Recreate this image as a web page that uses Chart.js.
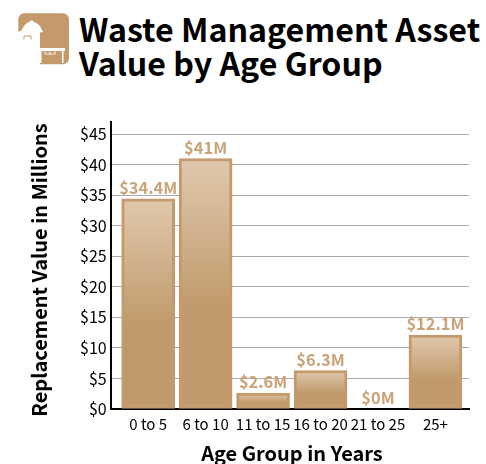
<!DOCTYPE html>
<html>
<head>
<meta charset="utf-8">
<title>Waste Management Asset Value by Age Group</title>
<script src="https://cdn.jsdelivr.net/npm/chart.js@4"></script>
<style>
    html, body { margin: 0; padding: 0; background: #fff; }
    body { width: 486px; height: 464px; position: relative; overflow: hidden; font-family: "Noto Sans CJK SC", "Noto Sans", sans-serif; }
    #chartBox { position: absolute; left: 0; top: 0; width: 486px; height: 464px; }
    #icon { position: absolute; left: 16px; top: 13px; }
    h1 { position: absolute; left: 79px; top: 12px; margin: 0; font-size: 32.15px; line-height: 33.5px; font-weight: 700; color: #000; white-space: nowrap; }
</style>
</head>
<body>
<svg id="icon" width="54" height="54" viewBox="0 0 54 54">
    <rect x="2.3" y="0.3" width="50.7" height="51" rx="6" fill="#c49a6c"/>
    <!-- white block under the dome -->
    <path d="M0 19H24V35H24V52H0Z" fill="#fff"/>
    <!-- dome and brim -->
    <path d="M5 18 Q9 10 13 9 L16 7 L18 9 Q24 11 26 17 L27 19 Q14 22 0.5 19Z" fill="#fff"/>
    <path d="M8 26.5V23H15V26.5" stroke="#c49a6c" stroke-width="1" fill="none"/>
    <!-- table -->
    <path d="M23.5 35H49V38H47.5V50H46V38H25.5V50H23.5Z" fill="#fff"/>
    <path d="M29 38V41.5M34 38V41.5M39 38V41.5M29 41H39" stroke="#fff" stroke-width="0.8" fill="none"/>
</svg>
<h1>Waste Management Asset<br>Value by Age Group</h1>
<div id="chartBox"><canvas id="assetChart"></canvas></div>
<script>
const categories = ['0 to 5', '6 to 10', '11 to 15', '16 to 20', '21 to 25', '25+'];
const values = [34.4, 41, 2.6, 6.3, 0, 12.1];
const valueLabels = ['$34.4M', '$41M', '$2.6M', '$6.3M', '$0M', '$12.1M'];
const yTicks = [0, 5, 10, 15, 20, 25, 30, 35, 40, 45];

const FONT = '"Noto Sans CJK SC", "Noto Sans", sans-serif';
const TAN = '#c49a6c';

// Gradient runs per bar: light at the top, solid from about the middle down
function barGradient(context) {
    const chart = context.chart;
    const value = values[context.dataIndex];
    if (!chart.chartArea || !value) return TAN;
    const top = chart.scales.y.getPixelForValue(value);
    const bottom = chart.scales.y.getPixelForValue(0);
    const gradient = chart.ctx.createLinearGradient(0, top, 0, bottom);
    gradient.addColorStop(0, '#e0c8ad');
    gradient.addColorStop(0.6, '#c19a6b');
    gradient.addColorStop(1, '#c19a6b');
    return gradient;
}

const valueLabelPlugin = {
    id: 'valueLabels',
    afterDatasetsDraw(chart) {
        const ctx = chart.ctx;
        ctx.save();
        ctx.font = '700 16.4px ' + FONT;
        ctx.fillStyle = '#cba378';
        ctx.textAlign = 'center';
        ctx.textBaseline = 'bottom';
        chart.getDatasetMeta(0).data.forEach((bar, i) => {
            ctx.fillText(valueLabels[i], bar.x, bar.y - 3);
        });
        ctx.restore();
    }
};

// Axis titles are not centred on the plot in the original, so they are drawn here
const axisTitlePlugin = {
    id: 'axisTitles',
    afterDraw(chart) {
        const ctx = chart.ctx;
        ctx.save();
        ctx.font = '700 20px ' + FONT;
        ctx.fillStyle = '#000';
        ctx.textAlign = 'center';
        ctx.textBaseline = 'middle';
        ctx.fillText('Age Group in Years', 292, 453);
        ctx.translate(39, 270);
        ctx.rotate(-Math.PI / 2);
        ctx.fillText('Replacement Value in Millions', 0, 0);
        ctx.restore();
    }
};

new Chart(document.getElementById('assetChart'), {
    type: 'bar',
    data: {
        datasets: [{
            data: values.map((v, i) => ({ x: i, y: v })),
            backgroundColor: barGradient,
            borderColor: TAN,
            borderWidth: 3,
            borderSkipped: false,
            barThickness: 53
        }]
    },
    plugins: [valueLabelPlugin, axisTitlePlugin],
    options: {
        responsive: true,
        maintainAspectRatio: false,
        animation: false,
        layout: { padding: { top: 122, right: 17, bottom: 25, left: 76 } },
        plugins: {
            legend: { display: false },
            tooltip: { enabled: false }
        },
        scales: {
            x: {
                type: 'linear',
                offset: false,
                // Room either side of the bars, the axis runs wider than the categories
                min: -0.653,
                max: 5.584,
                afterBuildTicks: axis => { axis.ticks = categories.map((c, i) => ({ value: i })); },
                grid: { display: false, drawTicks: false },
                border: { color: '#000', width: 2 },
                ticks: {
                    callback: value => categories[value],
                    color: '#000',
                    font: { family: FONT, size: 15 },
                    padding: 6,
                    maxRotation: 0,
                    autoSkip: false
                }
            },
            y: {
                min: 0,
                max: 47,
                afterBuildTicks: axis => { axis.ticks = yTicks.map(v => ({ value: v })); },
                grid: { color: '#aaaaaa', lineWidth: 1, drawTicks: false },
                border: { color: '#000', width: 2 },
                ticks: {
                    callback: value => '$' + value,
                    color: '#000',
                    font: { family: FONT, size: 16 },
                    padding: 4
                }
            }
        }
    }
});
</script>
</body>
</html>
